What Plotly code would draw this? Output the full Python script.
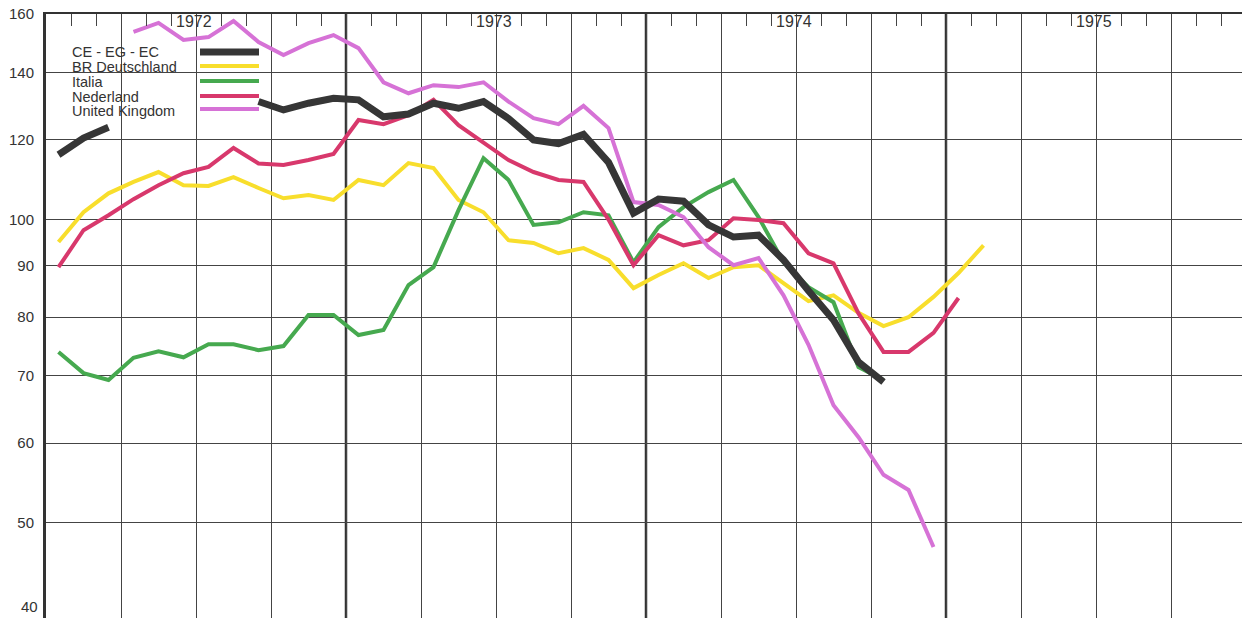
import math
import plotly.graph_objects as go

# monthly index values, Jan 1972 .. Feb 1975 (log scale)
months = [f"{1972 + i // 12}-{i % 12 + 1:02d}" for i in range(38)]
years = ["1972", "1973", "1974", "1975"]
y_ticks = [50, 60, 70, 80, 90, 100, 120, 140, 160]

ce = [116, 120.5, 123.5, None, None, None, None, None, 131, 128.5,
      130.5, 132, 131.5, 126.5, 127.3, 130.5, 129, 131, 126, 120,
      119, 121.5, 114, 101.5, 104.8, 104.3, 98.8, 96.1, 96.5, 91.2,
      85, 79.5, 72.2, 69.0]
br_deutschland = [95.0, 101.7, 106.2, 109.0, 111.5, 108.2, 108.0, 110.2, 107.5, 105.0,
                  105.8, 104.6, 109.5, 108.2, 113.8, 112.5, 104.6, 101.7, 95.4, 94.8,
                  92.6, 93.7, 91.2, 85.5, 88.1, 90.5, 87.5, 89.7, 90.1, 86.5,
                  83.0, 84.1, 80.8, 78.4, 80.0, 83.8, 88.5, 94.3]
italia = [73.9, 70.4, 69.3, 72.9, 74.0, 73.0, 75.2, 75.2, 74.2, 74.9,
          80.4, 80.4, 76.8, 77.7, 86.1, 89.7, 102.2, 115.1, 109.5, 98.8,
          99.4, 101.7, 101.0, 90.7, 98.3, 102.9, 106.5, 109.5, 100.6, 90.7,
          85.7, 82.8, 71.4, 69.3]
nederland = [89.7, 97.6, 101.0, 104.8, 108.2, 111.2, 112.8, 117.8, 113.7, 113.3,
             114.6, 116.2, 125.6, 124.4, 127.0, 131.5, 124.1, 119.1, 114.6, 111.5,
             109.5, 109.0, 100.0, 90.1, 96.5, 94.3, 95.4, 100.3, 99.9, 99.2,
             92.6, 90.5, 80.7, 73.9, 73.9, 77.2, 83.6]
united_kingdom = [None, None, None, 153.6, 156.8, 150.8, 151.8, 157.5, 150.1, 145.7,
                  149.7, 152.5, 148.0, 136.9, 133.5, 136.0, 135.4, 136.9, 131.0, 126.1,
                  124.4, 129.7, 123.3, 104.1, 103.4, 100.6, 93.9, 90.1, 91.6, 84.1,
                  75.1, 65.4, 60.8, 55.8, 53.9, 47.3]

series = [
    ("CE - EG - EC", ce, "#363636", 7),
    ("BR Deutschland", br_deutschland, "#f8de2c", 4),
    ("Italia", italia, "#46a94f", 4),
    ("Nederland", nederland, "#d8386c", 4),
    ("United Kingdom", united_kingdom, "#d672d6", 4),
]

x = [i + 0.5 for i in range(len(months))]

W, H = 1242, 618
L, T = 46, 14
PW, PH = W - L, H - T


def px(v):
    return (v - L) / PW


def py(v):
    return 1 - (v - T) / PH


fig = go.Figure()
# draw black on top
for name, vals, color, width in series[1:] + series[:1]:
    fig.add_trace(go.Scatter(
        x=x[:len(vals)], y=vals, name=name, mode="lines",
        line=dict(color=color, width=width),
        connectgaps=False, showlegend=False,
    ))

font = "Liberation Sans, Arial, Helvetica, sans-serif"
shapes = []
annotations = []

# thicker year boundaries
for k in range(1, len(years)):
    shapes.append(dict(type="line", xref="x", yref="paper", x0=12 * k, x1=12 * k,
                       y0=0, y1=1, line=dict(color="#333", width=2.5), layer="between"))

# legend box covering the grid
shapes.append(dict(type="rect", xref="paper", yref="paper", x0=px(63), x1=px(265),
                   y0=py(130), y1=py(27), fillcolor="white", line=dict(width=0),
                   layer="between"))

text_y = [52, 67, 82, 97, 111]
line_y = [52, 66, 81, 96, 109]
for (name, vals, color, width), ty, ly in zip(series, text_y, line_y):
    annotations.append(dict(xref="paper", yref="paper", x=px(70), y=py(ty), text=name,
                            showarrow=False, xanchor="left", yanchor="middle",
                            font=dict(family=font, size=14.5, color="#333")))
    shapes.append(dict(type="line", xref="paper", yref="paper", x0=px(200), x1=px(259),
                       y0=py(ly), y1=py(ly), line=dict(color=color, width=width),
                       layer="above"))

# year labels at mid-year; the mid-year gridline starts below the label
for k, yr in enumerate(years):
    shapes.append(dict(type="line", xref="x", yref="paper", x0=12 * k + 6, x1=12 * k + 6,
                       y0=py(48), y1=py(15), line=dict(color="white", width=3),
                       layer="between"))
    annotations.append(dict(xref="x", yref="paper", x=12 * k + 6, y=py(22), xshift=-2,
                            text=yr, showarrow=False, xanchor="center", yanchor="middle",
                            font=dict(family=font, size=16, color="#333")))

# "40" label at the bottom edge, kept just inside the page
annotations.append(dict(xref="paper", yref="paper", x=0, y=0, xshift=-6, yshift=1,
                        text="40", showarrow=False, xanchor="right", yanchor="bottom",
                        font=dict(family=font, size=15, color="#333")))

fig.update_layout(
    width=W, height=H,
    margin=dict(l=L, r=0, t=T, b=0),
    paper_bgcolor="white", plot_bgcolor="white",
    shapes=shapes, annotations=annotations,
    xaxis=dict(
        range=[0, PW / 25], side="top", showline=True, linecolor="#333", linewidth=1.5,
        tick0=0, dtick=3, ticks="", showticklabels=False, zeroline=False,
        showgrid=True, gridcolor="#444", gridwidth=1,
        minor=dict(tick0=0, dtick=1, ticks="inside", ticklen=12, tickwidth=1,
                   tickcolor="#444", showgrid=False),
    ),
    yaxis=dict(
        type="log", range=[2.2042 - PH / 1007, 2.2042],
        tickvals=y_ticks, ticktext=[str(v) for v in y_ticks], ticks="",
        ticklabelstandoff=6,
        tickfont=dict(family=font, size=15, color="#333"),
        showline=True, linecolor="#333", linewidth=3, zeroline=False,
        showgrid=True, gridcolor="#444", gridwidth=1,
    ),
)

fig.write_html("out.html", config={"displayModeBar": False},
               post_script="document.body.style.margin='0';")
